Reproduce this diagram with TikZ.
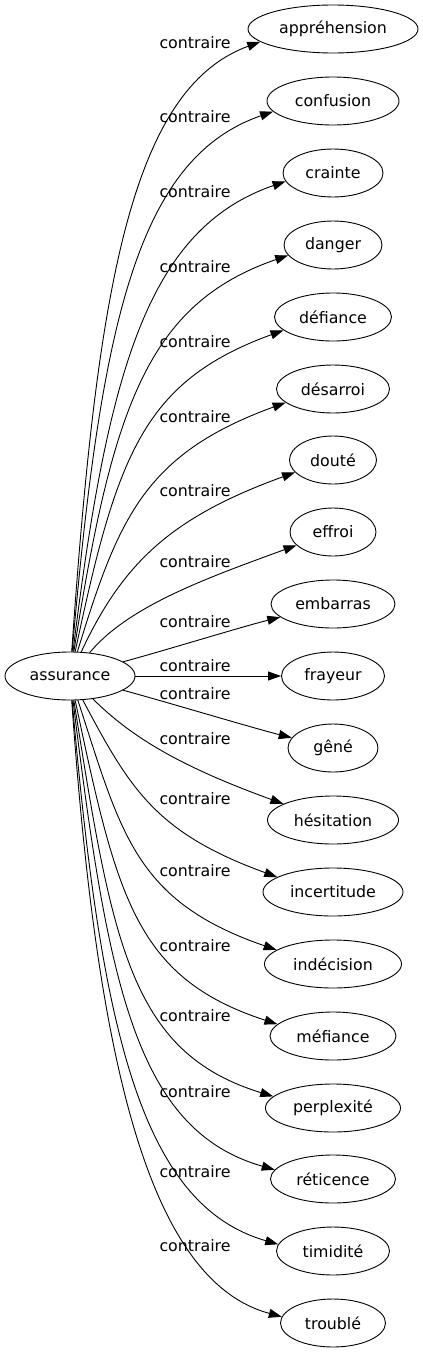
\documentclass[tikz,border=0pt]{standalone}
\usepackage{fontspec}
\setmainfont{DejaVu Sans}
\usetikzlibrary{shapes.geometric,arrows.meta}
\tikzset{
    word/.style={draw, ellipse, inner sep=0pt, minimum height=48pt, line width=0.9pt, font=\fontsize{15.8pt}{19pt}\selectfont},
    rel/.style={inner sep=0pt, font=\fontsize{15.8pt}{19pt}\selectfont},
    link/.style={line width=0.9pt, -{Triangle[length=13pt,width=9pt]}}
}
\begin{document}
\begin{tikzpicture}[x=1pt, y=1pt]
            \useasboundingbox (0,0) rectangle (423,-1355);

            %States
            \node[word, minimum width=130pt] (assurance) at (70,-676) {assurance};
            \node[word, minimum width=170pt] (apprehension) at (333,-29) {appréhension};
            \node[word, minimum width=132pt] (confusion) at (333,-101) {confusion};
            \node[word, minimum width=100pt] (crainte) at (333,-173) {crainte};
            \node[word, minimum width=98pt] (danger) at (333,-245) {danger};
            \node[word, minimum width=117pt] (defiance) at (333,-317) {défiance};
            \node[word, minimum width=113pt] (desarroi) at (333,-389) {désarroi};
            \node[word, minimum width=87pt] (doute) at (333,-460) {douté};
            \node[word, minimum width=86pt] (effroi) at (333,-532) {effroi};
            \node[word, minimum width=124pt] (embarras) at (333,-604) {embarras};
            \node[word, minimum width=103pt] (frayeur) at (333,-676) {frayeur};
            \node[word, minimum width=90pt] (gene) at (333,-748) {gêné};
            \node[word, minimum width=131pt] (hesitation) at (333,-820) {hésitation};
            \node[word, minimum width=140pt] (incertitude) at (333,-892) {incertitude};
            \node[word, minimum width=137pt] (indecision) at (333,-964) {indécision};
            \node[word, minimum width=126pt] (mefiance) at (333,-1036) {méfiance};
            \node[word, minimum width=135pt] (perplexite) at (333,-1108) {perplexité};
            \node[word, minimum width=125pt] (reticence) at (333,-1179) {réticence};
            \node[word, minimum width=113pt] (timidite) at (333,-1251) {timidité};
            \node[word, minimum width=105pt] (trouble) at (333,-1323) {troublé};

            %Edges
                %Going up
            \draw[link] (assurance) to[out=86, in=200, out distance=355pt, in distance=140pt] (apprehension.190);
            \draw[link] (assurance) to[out=85, in=199, out distance=325pt, in distance=145pt] (confusion.190);
            \draw[link] (assurance) to[out=83, in=199, out distance=285pt, in distance=145pt] (crainte.190);
            \draw[link] (assurance) to[out=81, in=199, out distance=245pt, in distance=150pt] (danger.193);
            \draw[link] (assurance) to[out=78, in=200, out distance=200pt, in distance=150pt] (defiance.195);
            \draw[link] (assurance) to[out=73, in=200, out distance=140pt, in distance=150pt] (desarroi.196);
            \draw[link] (assurance) to[out=65, in=200, out distance=100pt, in distance=130pt] (doute.198);
            \draw[link] (assurance) to[out=50, in=200, out distance=60pt, in distance=100pt] (effroi.200);
            \draw[link] (assurance) to[out=15, in=194, out distance=40pt, in distance=40pt] (embarras.194);
                %Straight across
            \draw[link] (assurance) -- (frayeur);
                %Going down
            \draw[link] (assurance) to[out=-15, in=166, out distance=40pt, in distance=40pt] (gene.166);
            \draw[link] (assurance) to[out=-45, in=160, out distance=60pt, in distance=100pt] (hesitation.162);
            \draw[link] (assurance) to[out=-62, in=160, out distance=100pt, in distance=130pt] (incertitude.165);
            \draw[link] (assurance) to[out=-72, in=161, out distance=140pt, in distance=150pt] (indecision.166);
            \draw[link] (assurance) to[out=-78, in=162, out distance=200pt, in distance=150pt] (mefiance.168);
            \draw[link] (assurance) to[out=-81, in=163, out distance=245pt, in distance=150pt] (perplexite.169);
            \draw[link] (assurance) to[out=-83, in=164, out distance=285pt, in distance=145pt] (reticence.171);
            \draw[link] (assurance) to[out=-85, in=164, out distance=325pt, in distance=145pt] (timidite.173);
            \draw[link] (assurance) to[out=-86, in=165, out distance=355pt, in distance=140pt] (trouble.173);

            %Labels
            \node[rel] (l1) at (195,-43) {contraire};
            \node[rel] (l2) at (195,-117) {contraire};
            \node[rel] (l3) at (195,-192) {contraire};
            \node[rel] (l4) at (195,-267) {contraire};
            \node[rel] (l5) at (195,-342) {contraire};
            \node[rel] (l6) at (195,-417) {contraire};
            \node[rel] (l7) at (195,-491) {contraire};
            \node[rel] (l8) at (195,-562) {contraire};
            \node[rel] (l9) at (195,-622) {contraire};
            \node[rel] (l10) at (195,-666) {contraire};
            \node[rel] (l11) at (195,-694) {contraire};
            \node[rel] (l12) at (195,-739) {contraire};
            \node[rel] (l13) at (195,-799) {contraire};
            \node[rel] (l14) at (195,-871) {contraire};
            \node[rel] (l15) at (195,-946) {contraire};
            \node[rel] (l16) at (195,-1016) {contraire};
            \node[rel] (l17) at (195,-1092) {contraire};
            \node[rel] (l18) at (195,-1172) {contraire};
            \node[rel] (l19) at (195,-1246) {contraire};

        \end{tikzpicture}
\end{document}
